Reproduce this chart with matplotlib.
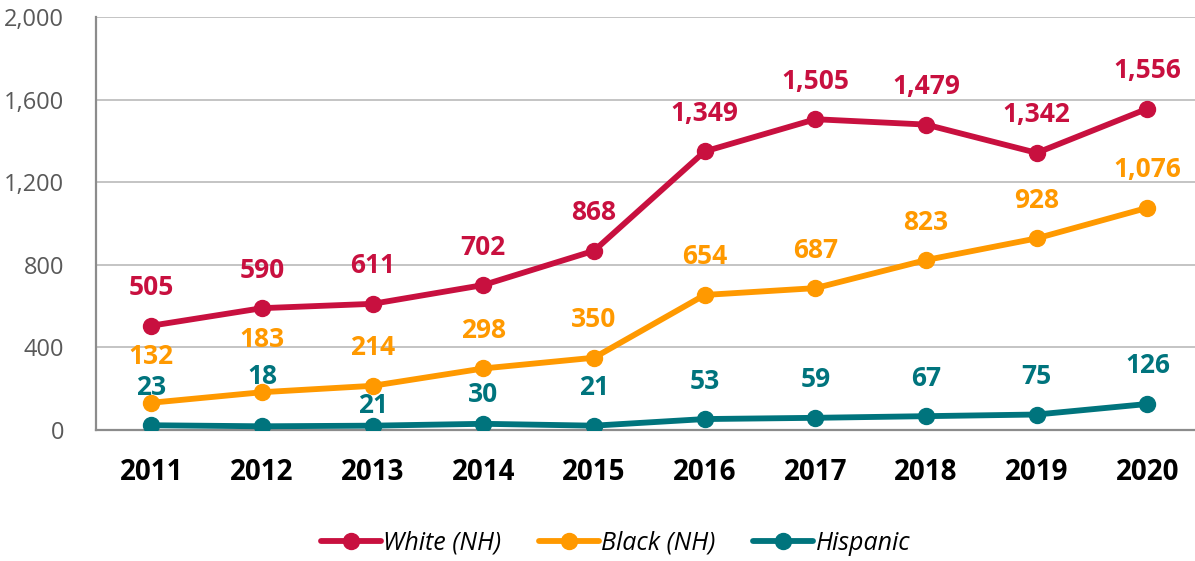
import numpy as np
import matplotlib.pyplot as plt

plt.rcParams['font.family'] = ['Open Sans', 'DejaVu Sans']

years = ['2011', '2012', '2013', '2014', '2015', '2016', '2017', '2018', '2019', '2020']
white = [505, 590, 611, 702, 868, 1349, 1505, 1479, 1342, 1556]
black = [132, 183, 214, 298, 350, 654, 687, 823, 928, 1076]
hispanic = [23, 18, 21, 30, 21, 53, 59, 67, 75, 126]

series = [
    ('White (NH)', white, '#C8103F'),
    ('Black (NH)', black, '#FF9900'),
    ('Hispanic', hispanic, '#00747D'),
]

# label offsets above the point in pixels (default 38), a few nudged to avoid overlaps
label_shift = {
    ('Black (NH)', 0): 46, ('Black (NH)', 1): 53,
    ('Hispanic', 1): 50, ('Hispanic', 2): 20, ('Hispanic', 3): 29,
}

fig = plt.figure(figsize=(11.95, 5.61), dpi=100)
ax = fig.add_axes([96 / 1195, 1 - 430 / 561, 1 - 96 / 1195, (430 - 17) / 561])

x = np.arange(len(years))
for name, vals, col in series:
    ax.plot(x, vals, '-o', color=col, lw=4.2, markersize=11.5, label=name,
            solid_capstyle='round', zorder=3)
    for i, v in enumerate(vals):
        dy = label_shift.get((name, i), 38) * 0.72
        ax.annotate(f'{v:,}', (i, v), xytext=(0, dy), textcoords='offset points',
                    ha='center', va='center', color=col, fontsize=19,
                    fontweight='bold', zorder=4)

ax.set_xlim(-0.5, 9.43)
ax.set_ylim(0, 2000)
ax.set_yticks(np.arange(0, 2001, 400))
ax.set_yticklabels([f'{t:,}' for t in range(0, 2001, 400)])
ax.set_xticks(x)
ax.set_xticklabels(years, fontweight='bold')
ax.grid(axis='y', color='#C4C4C4', lw=1.4)
ax.set_axisbelow(True)
for s in ['top', 'right']:
    ax.spines[s].set_visible(False)
for s in ['left', 'bottom']:
    ax.spines[s].set_color('#8C8C8C')
    ax.spines[s].set_linewidth(1.6)
ax.tick_params(axis='y', length=0, labelsize=17, labelcolor='#595959', pad=23)
ax.tick_params(axis='x', length=0, labelsize=20, labelcolor='black', pad=20)

fig.legend(loc='center', bbox_to_anchor=(0.515, 1 - 543 / 561), ncol=3, frameon=False,
           prop={'style': 'italic', 'size': 18}, handlelength=2.4,
           handletextpad=0.1, columnspacing=1.5)

fig.savefig('out.png', dpi=100)
